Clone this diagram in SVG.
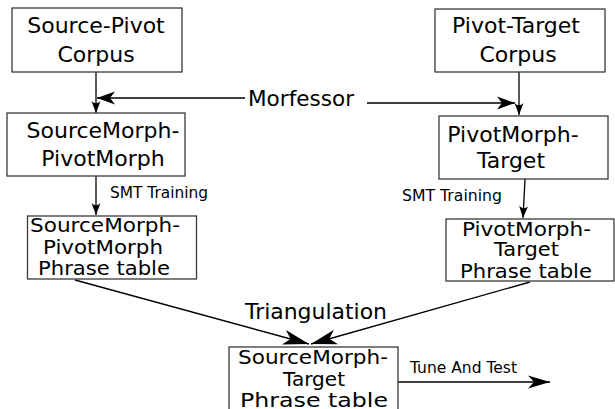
<svg xmlns="http://www.w3.org/2000/svg" width="615" height="409" viewBox="0 0 615 409">
<style>
.box{fill:#fff;stroke:#3a3a3a;stroke-width:1.3}
.t{font-family:"DejaVu Sans",Verdana,sans-serif;fill:#000}
.big{font-size:22px;text-anchor:middle}
.mid{font-size:19px;text-anchor:middle}
.lbl{font-size:15px}
.lab{font-size:22px}
.c{fill:none;stroke:#000;stroke-width:1.3}
</style>
<defs>
<marker id="sm" markerUnits="userSpaceOnUse" orient="auto" overflow="visible" markerWidth="1" markerHeight="1"><path d="M0,0 L-12,-4.5 C-9,-1.5 -9,1.5 -12,4.5 z" fill="#000"/></marker>
<marker id="md" markerUnits="userSpaceOnUse" orient="auto" overflow="visible" markerWidth="1" markerHeight="1"><path d="M0,0 L-18,-6.5 L-13,0 L-18,6.5 z" fill="#000"/></marker>
<marker id="bg" markerUnits="userSpaceOnUse" orient="auto" overflow="visible" markerWidth="1" markerHeight="1"><path d="M0,0 L-26,-7.5 L-19,0 L-26,7.5 z" fill="#000"/></marker>
<marker id="tn" markerUnits="userSpaceOnUse" orient="auto" overflow="visible" markerWidth="1" markerHeight="1"><path d="M0,0 L-22,-6.5 L-16,0 L-22,6.5 z" fill="#000"/></marker>
</defs>
<g id="connectors">
<line class="c" x1="96" y1="72" x2="96" y2="113" marker-end="url(#sm)"/>
<line class="c" x1="245" y1="98" x2="97" y2="98" marker-end="url(#md)"/>
<line class="c" x1="367" y1="103" x2="515" y2="103" marker-end="url(#md)"/>
<line class="c" x1="519" y1="72" x2="519" y2="115" marker-end="url(#sm)"/>
<line class="c" x1="96" y1="176" x2="96" y2="215" marker-end="url(#sm)"/>
<line class="c" x1="525" y1="179" x2="523" y2="218" marker-end="url(#sm)"/>
<line class="c" x1="75" y1="280" x2="309" y2="344" marker-end="url(#bg)"/>
<line class="c" x1="530" y1="282" x2="311" y2="344" marker-end="url(#bg)"/>
<line class="c" x1="398" y1="382" x2="550" y2="382" marker-end="url(#tn)"/>
<text class="t lab" x="248" y="105.5" textLength="106" lengthAdjust="spacingAndGlyphs">Morfessor</text>
<text class="t lbl" x="110" y="198" textLength="98" lengthAdjust="spacingAndGlyphs">SMT Training</text>
<text class="t lbl" x="402" y="201" textLength="100" lengthAdjust="spacingAndGlyphs">SMT Training</text>
<text class="t lab" x="245" y="318.5" textLength="142" lengthAdjust="spacingAndGlyphs">Triangulation</text>
<text class="t lbl" x="410" y="373" textLength="107" lengthAdjust="spacingAndGlyphs">Tune And Test</text>
</g>
<g id="source-pivot-corpus">
<rect class="box" x="12" y="8" width="170" height="64"/>
<text class="t big" x="96" y="32.5">Source-Pivot</text>
<text class="t big" x="96" y="61.5">Corpus</text>
</g>
<g id="pivot-target-corpus">
<rect class="box" x="435" y="9" width="170" height="63"/>
<text class="t big" x="516" y="33">Pivot-Target</text>
<text class="t big" x="518" y="62">Corpus</text>
</g>
<g id="sourcemorph-pivotmorph">
<rect class="box" x="7" y="113" width="178" height="63"/>
<text class="t big" x="103" y="138">SourceMorph-</text>
<text class="t big" x="103" y="166">PivotMorph</text>
</g>
<g id="pivotmorph-target">
<rect class="box" x="439" y="116" width="169" height="63"/>
<text class="t big" x="513" y="142">PivotMorph-</text>
<text class="t big" x="511" y="168">Target</text>
</g>
<g id="sm-pm-phrase-table">
<rect class="box" x="27.5" y="216" width="169" height="63"/>
<text class="t mid" x="105" y="232" textLength="150" lengthAdjust="spacingAndGlyphs">SourceMorph-</text>
<text class="t mid" x="103" y="254" textLength="120" lengthAdjust="spacingAndGlyphs">PivotMorph</text>
<text class="t mid" x="104" y="275" textLength="132" lengthAdjust="spacingAndGlyphs">Phrase table</text>
</g>
<g id="pm-t-phrase-table">
<rect class="box" x="446" y="219" width="168" height="62"/>
<text class="t mid" x="526.5" y="236" textLength="129" lengthAdjust="spacingAndGlyphs">PivotMorph-</text>
<text class="t mid" x="526.5" y="256" textLength="65" lengthAdjust="spacingAndGlyphs">Target</text>
<text class="t mid" x="526" y="278" textLength="132" lengthAdjust="spacingAndGlyphs">Phrase table</text>
</g>
<g id="sm-t-phrase-table">
<rect class="box" x="229" y="347" width="169" height="70"/>
<text class="t mid" x="313" y="364" textLength="150" lengthAdjust="spacingAndGlyphs">SourceMorph-</text>
<text class="t mid" x="314" y="386" textLength="62" lengthAdjust="spacingAndGlyphs">Target</text>
<text class="t mid" x="314" y="407" textLength="148" lengthAdjust="spacingAndGlyphs">Phrase table</text>
</g>
</svg>
